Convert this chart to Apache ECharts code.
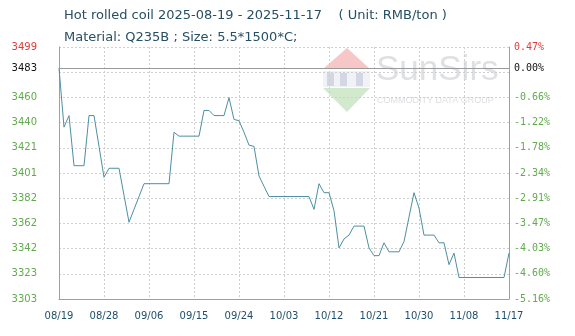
<!DOCTYPE html>
<html>
<head>
<meta charset="utf-8">
<script src="https://cdn.jsdelivr.net/npm/echarts@6/dist/echarts.min.js"></script>
<style>
html,body{margin:0;padding:0;background:#fff;}
#c{width:575px;height:336px;}
</style>
</head>
<body>
<div id="c"></div>
<script>
// ---- data ----
const startDate = '2025-08-19';
const dayCount = 91;
const prices = [
  3483, 3437, 3446, 3407, 3407, 3407, 3446, 3446, 3422, 3398,
  3405, 3405, 3405, 3384, 3363, 3373, 3383, 3393, 3393, 3393,
  3393, 3393, 3393, 3433, 3430, 3430, 3430, 3430, 3430, 3450,
  3450, 3446, 3446, 3446, 3460, 3443, 3442, 3433, 3423, 3422,
  3399, 3391, 3383, 3383, 3383, 3383, 3383, 3383, 3383, 3383,
  3383, 3373, 3393, 3386, 3386, 3372, 3343, 3350, 3353, 3360,
  3360, 3360, 3343, 3337, 3337, 3347, 3340, 3340, 3340, 3348,
  3367, 3386, 3374, 3353, 3353, 3353, 3347, 3347, 3330, 3339,
  3320, 3320, 3320, 3320, 3320, 3320, 3320, 3320, 3320, 3320,
  3339
];
const basePrice = 3483;
const yMin = 3303.27;
const yMax = 3499.37;
const leftTickLabels  = ['3303','3323','3342','3362','3382','3401','3421','3440','3460','','3499'];
const rightTickLabels = ['-5.16%','-4.60%','-4.03%','-3.47%','-2.91%','-2.34%','-1.78%','-1.22%','-0.66%','','0.47%'];
const baseLeftLabel = '3483';
const baseRightLabel = '0.00%';
const titleLine1 = 'Hot rolled coil 2025-08-19 - 2025-11-17    ( Unit: RMB/ton )';
const titleLine2 = 'Material: Q235B ; Size: 5.5*1500*C;';

// ---- build ----
const categories = [];
(function(){
  const d = new Date(startDate + 'T00:00:00Z');
  for (let i = 0; i < dayCount; i++) {
    const m = String(d.getUTCMonth()+1).padStart(2,'0');
    const dd = String(d.getUTCDate()).padStart(2,'0');
    categories.push(m + '/' + dd);
    d.setUTCDate(d.getUTCDate()+1);
  }
})();
const step = (yMax - yMin) / 10;
const tickValues = [];
for (let i = 0; i <= 10; i++) tickValues.push(yMin + i*step);
const labelValues = tickValues.filter((v,i) => leftTickLabels[i] !== '').concat([basePrice]);

function makeFormatter(labels, baseLabel){
  return function(v){
    if (Math.abs(v - basePrice) < 0.01) return '{b|' + baseLabel + '}';
    const i = Math.round((v - yMin)/step);
    if (i === 10) return '{r|' + labels[i] + '}';
    return '{g|' + labels[i] + '}';
  };
}
const richLeft = {
  b:{color:'#111', fontFamily:'DejaVu Sans', fontSize:10},
  r:{color:'#e03c3c', fontFamily:'DejaVu Sans', fontSize:10},
  g:{color:'#62aa4e', fontFamily:'DejaVu Sans', fontSize:10}
};
const richRight = {
  b:{color:'#111', fontFamily:'DejaVu Sans Mono', fontSize:10},
  r:{color:'#e03c3c', fontFamily:'DejaVu Sans Mono', fontSize:10},
  g:{color:'#62aa4e', fontFamily:'DejaVu Sans Mono', fontSize:10}
};

const chart = echarts.init(document.getElementById('c'), null, {renderer:'canvas'});
chart.setOption({
  animation:false,
  backgroundColor:'#fff',
  title:{
    text: titleLine1 + '\n' + titleLine2,
    left: 59, top: 0,
    textStyle:{color:'#274f63', fontFamily:'DejaVu Sans', fontSize:13, fontWeight:'normal', lineHeight:22}
  },
  graphic:[
    {type:'polygon', z:0, silent:true, shape:{points:[[347,48],[370,69],[323,69]]}, style:{fill:'#f7c6c6'}},
    {type:'rect', z:0, silent:true, shape:{x:323,y:71,width:47,height:16}, style:{fill:'#f1f2f6'}},
    {type:'rect', z:0, silent:true, shape:{x:327,y:73,width:7,height:13}, style:{fill:'#d3d7e3'}},
    {type:'rect', z:0, silent:true, shape:{x:340,y:73,width:7,height:13}, style:{fill:'#d3d7e3'}},
    {type:'rect', z:0, silent:true, shape:{x:356,y:73,width:7,height:13}, style:{fill:'#d3d7e3'}},
    {type:'polygon', z:0, silent:true, shape:{points:[[323,88],[370,88],[347,112]]}, style:{fill:'#d3e9cd'}},
    {type:'text', z:0, silent:true, left:376, top:53, style:{text:'SunSirs', fill:'#dfe0e3', font:'35px "Liberation Sans"'}},
    {type:'text', z:0, silent:true, left:377, top:96, style:{text:'COMMODITY DATA GROUP', fill:'#dcdee2', font:'9px "Liberation Sans"'}}
  ],
  grid:{left:59, right:66, top:47, bottom:37, show:false},
  xAxis:{
    type:'category', data:categories, boundaryGap:false,
    axisLine:{show:true, lineStyle:{color:'#a0a0a0'}},
    axisTick:{show:false},
    axisLabel:{interval:8, color:'#1f4f6a', fontFamily:'DejaVu Sans', fontSize:10, margin:12},
    splitLine:{show:true, interval:8, lineStyle:{color:'#cfcfcf', type:[2,2]}}
  },
  yAxis:[
    {
      type:'value', min:yMin, max:yMax, position:'left',
      axisLine:{show:true, lineStyle:{color:'#a0a0a0'}},
      axisTick:{show:false, customValues:tickValues},
      axisLabel:{customValues:labelValues, formatter:makeFormatter(leftTickLabels, baseLeftLabel), rich:richLeft, margin:22},
      splitLine:{show:true, lineStyle:{color:'#cfcfcf', type:[2,2]}}
    },
    {
      type:'value', min:yMin, max:yMax, position:'right',
      axisLine:{show:true, lineStyle:{color:'#a0a0a0'}},
      axisTick:{show:false, customValues:tickValues},
      axisLabel:{customValues:labelValues, formatter:makeFormatter(rightTickLabels, baseRightLabel), rich:richRight, margin:5},
      splitLine:{show:false}
    }
  ],
  series:[{
    type:'line', data:prices, yAxisIndex:0, showSymbol:false, symbol:'none',
    lineStyle:{color:'#4d8fa3', width:1},
    markLine:{
      silent:true, symbol:['none','none'], label:{show:false},
      lineStyle:{color:'#9a9a9a', type:'solid', width:1},
      data:[{yAxis:basePrice}]
    }
  }]
});
</script>
</body>
</html>
